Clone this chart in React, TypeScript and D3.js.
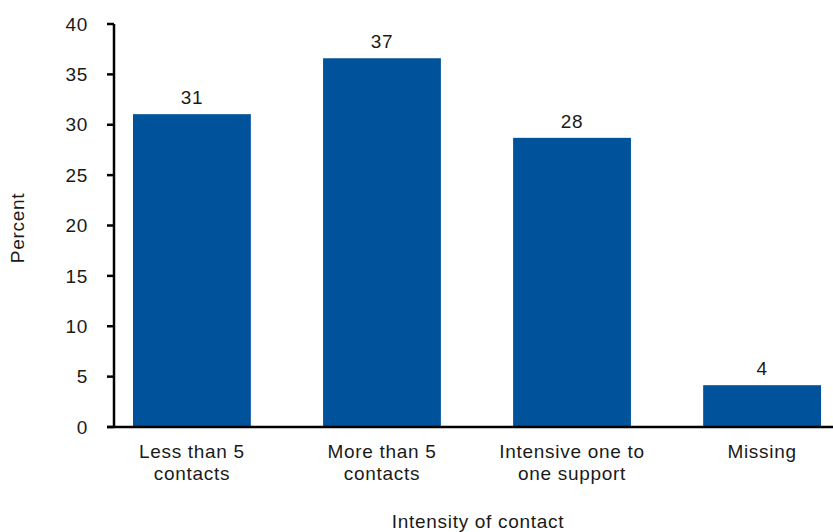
import React from "react";
import * as d3 from "d3";

const categories: string[][] = [
  ["Less than 5", "contacts"],
  ["More than 5", "contacts"],
  ["Intensive one to", "one support"],
  ["Missing"],
];
const values: number[] = [31.05, 36.6, 28.7, 4.15];
const valueLabels: string[] = ["31", "37", "28", "4"];
const yTicks: number[] = [0, 5, 10, 15, 20, 25, 30, 35, 40];
const yTitle = "Percent";
const xTitle = "Intensity of contact";

const W = 833;
const H = 532;
const font = "'Liberation Sans', Arial, Helvetica, sans-serif";
const barColor = "#00529B";
const textColor = "#1a1a1a";
const ls = 0.7;
const fs = 19;

export default function App() {
  const keys = categories.map((c) => c.join(" "));
  const x = d3.scaleBand<string>().domain(keys).range([114, 840]).paddingInner(0.38).paddingOuter(0.1);
  const y = d3.scaleLinear().domain([0, 40]).range([427, 24]);
  const axisX = 114;

  return (
    <svg width={W} height={H} style={{ position: "absolute", left: 0, top: 0, background: "#fff" }} fontFamily={font}>
      {values.map((v, i) => (
        <rect key={i} x={x(keys[i])} y={y(v)} width={x.bandwidth()} height={y(0) - y(v)} fill={barColor} />
      ))}
      {values.map((v, i) => (
        <text key={"v" + i} x={(x(keys[i]) as number) + x.bandwidth() / 2} y={y(v) - 10} textAnchor="middle" fontSize={fs} fill={textColor} letterSpacing={ls}>
          {valueLabels[i]}
        </text>
      ))}
      <line x1={axisX} x2={axisX} y1={y(40)} y2={y(0)} stroke="#000" strokeWidth={2.5} />
      {yTicks.map((t) => (
        <g key={t}>
          <line x1={axisX - 7} x2={axisX} y1={y(t)} y2={y(t)} stroke="#000" strokeWidth={2.5} />
          <text x={88} y={y(t)} dy="0.35em" textAnchor="end" fontSize={fs} fill={textColor} letterSpacing={ls}>
            {t}
          </text>
        </g>
      ))}
      <line x1={axisX - 7} x2={W} y1={y(0)} y2={y(0)} stroke="#000" strokeWidth={2.5} />
      {categories.map((lines, i) => (
        <text key={"c" + i} y={458} textAnchor="middle" fontSize={fs} fill={textColor} letterSpacing={ls}>
          {lines.map((l, j) => (
            <tspan key={j} x={(x(keys[i]) as number) + x.bandwidth() / 2} dy={j === 0 ? 0 : 22}>
              {l}
            </tspan>
          ))}
        </text>
      ))}
      <text x={478} y={528} textAnchor="middle" fontSize={fs} fill={textColor} letterSpacing={ls}>
        {xTitle}
      </text>
      <text transform={`translate(24,228) rotate(-90)`} textAnchor="middle" fontSize={fs} fill={textColor} letterSpacing={ls}>
        {yTitle}
      </text>
    </svg>
  );
}
